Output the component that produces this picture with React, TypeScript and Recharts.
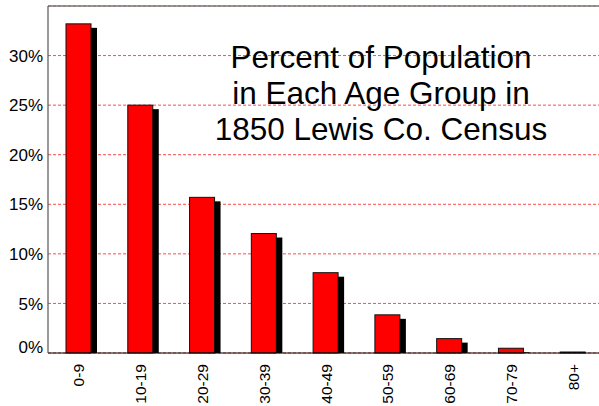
import { Bar, BarChart, CartesianGrid, ReferenceLine, XAxis, YAxis } from "recharts";

// 1850 Lewis Co. census, share of population per age group
const ageGroups = ["0-9", "10-19", "20-29", "30-39", "40-49", "50-59", "60-69", "70-79", "80+"];
const percentValues = [33.2, 25.0, 15.7, 12.05, 8.1, 3.85, 1.45, 0.48, 0.1];
const yTicks = [0, 5, 10, 15, 20, 25, 30, 35];
const titleLines = ["Percent of Population", "in Each Age Group in", "1850 Lewis Co. Census"];

const data = ageGroups.map((group, i) => ({ group, pct: percentValues[i] }));

const FONT = "'Liberation Sans', Arial, sans-serif";

// red bar with a black drop shadow offset to the lower right
function ShadowBar(props: any) {
  const { x, y, width, height } = props;
  if (height == null || width == null) return null;
  const dx = 6;
  const dy = 4;
  const sh = Math.max(0, height - dy);
  return (
    <g>
      {sh > 0 && <rect x={x + dx} y={y + dy} width={width} height={sh} fill="#000" />}
      <rect x={x} y={y} width={width} height={height} fill="#ff0000" stroke="#111" strokeWidth={1} />
    </g>
  );
}

function XTick(props: any) {
  const { x, y, payload } = props;
  return (
    <g transform={`translate(${x},${y})`}>
      <text
        transform="rotate(-90)"
        x={-9}
        y={0}
        dy="0.36em"
        textAnchor="end"
        fontFamily={FONT}
        fontSize={15.5}
        fill="#000"
      >
        {payload.value}
      </text>
    </g>
  );
}

function YTick(props: any) {
  const { x, y, payload } = props;
  if (payload.value === 35) return null;
  // the 0% label sits just above the axis line
  const lift = payload.value === 0 ? -6.5 : 0;
  return (
    <text
      x={x}
      y={y + lift}
      dy="0.36em"
      textAnchor="end"
      fontFamily={FONT}
      fontSize={17}
      fill="#000"
    >
      {payload.value}%
    </text>
  );
}

export default function App() {
  return (
    <div
      style={{
        position: "absolute",
        left: 0,
        top: 0,
        width: 599,
        height: 406,
        overflow: "hidden",
        background: "#fff",
      }}
    >
      <BarChart
        width={604}
        height={406}
        data={data}
        margin={{ top: 6, right: 0, bottom: 0, left: 0 }}
        barSize={25}
      >
        <CartesianGrid horizontal vertical={false} stroke="#ff4a4a" strokeDasharray="3 2" />
        <ReferenceLine y={35} stroke="#777" strokeWidth={1.5} />
        <XAxis
          dataKey="group"
          interval={0}
          height={53}
          tickLine={false}
          tickSize={0}
          tick={<XTick />}
          axisLine={{ stroke: "#000", strokeWidth: 1.2 }}
        />
        <YAxis
          width={48}
          domain={[0, 35]}
          ticks={yTicks}
          interval={0}
          tickLine={false}
          tickSize={0}
          tickMargin={5}
          tick={<YTick />}
          axisLine={{ stroke: "#555", strokeWidth: 1.2 }}
        />
        <Bar dataKey="pct" shape={<ShadowBar />} isAnimationActive={false} />
      </BarChart>
      <div
        style={{
          position: "absolute",
          left: 381 - 200,
          top: 39,
          width: 400,
          textAlign: "center",
          fontFamily: FONT,
          fontSize: 31.5,
          lineHeight: "36px",
          color: "#000",
        }}
      >
        {titleLines.map((line) => (
          <div key={line}>{line}</div>
        ))}
      </div>
    </div>
  );
}
